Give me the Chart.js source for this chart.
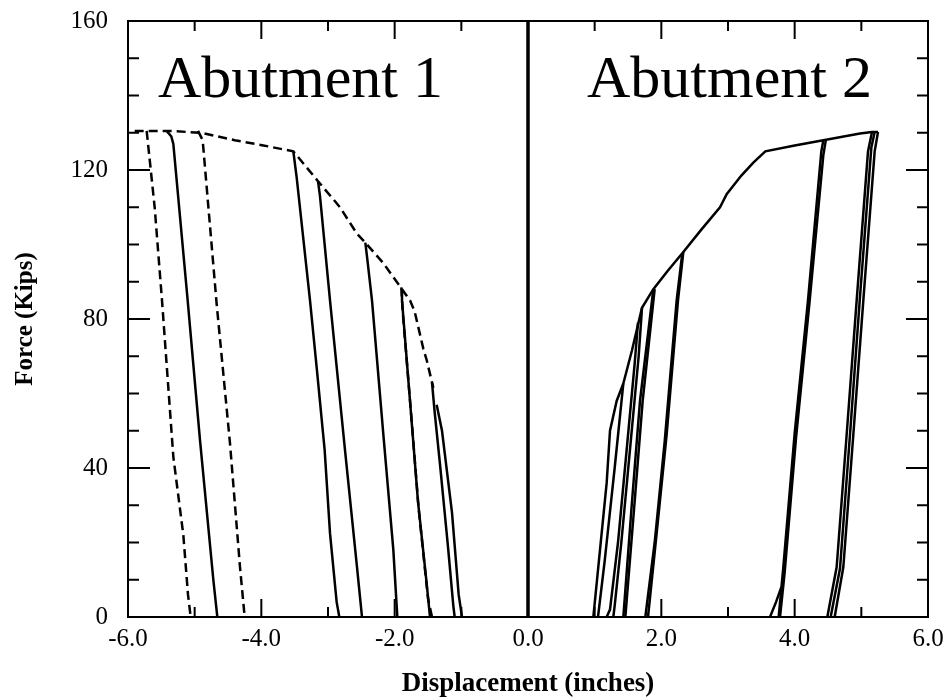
<!DOCTYPE html>
<html>
<head>
<meta charset="utf-8">
<script src="https://cdn.jsdelivr.net/npm/chart.js@4.4.0/dist/chart.umd.min.js"></script>
<style>
  body { margin: 0; background: #fff; }
  canvas { display: block; }
</style>
</head>
<body>
<canvas id="chart" width="947" height="698"></canvas>
<script>
// axis ticks
var xTicks = [-6, -5, -4, -3, -2, -1, 0, 1, 2, 3, 4, 5, 6];
var xLabelValues = [-6, -4, -2, 0, 2, 4, 6];
var yTicks = [0, 10, 20, 30, 40, 50, 60, 70, 80, 90, 100, 110, 120, 130, 140, 150, 160];
var yLabelValues = [0, 40, 80, 120, 160];
var panelNames = ['Abutment 1', 'Abutment 2'];

// Abutment 1 - [displacement (in), force (kips)]
var envelope1 = [[-5.9, 130.5], [-5.72, 130.5], [-5.4, 130.5], [-4.9, 130], [-4.4, 128], [-3.97, 126.6], [-3.52, 125],
  [-3.15, 117], [-2.82, 110], [-2.57, 103], [-2.44, 100.5], [-2.17, 95], [-1.89, 88], [-1.77, 85], [-1.7, 82],
  [-1.57, 72], [-1.52, 69], [-1.42, 61.5]];
var unload1a = [[-5.72, 130.5], [-5.6, 110], [-5.49, 85], [-5.32, 43], [-5.17, 22], [-5.1, 6], [-5.06, 0]];
var unload1b = [[-5.42, 130.5], [-5.35, 129], [-5.32, 127], [-5.11, 86], [-4.92, 47.5], [-4.72, 10], [-4.66, 0]];
var unload1c = [[-4.95, 130.5], [-4.88, 128], [-4.67, 84], [-4.47, 46.6], [-4.32, 13.4], [-4.25, 0]];
var unload1d = [[-3.52, 125], [-3.47, 118], [-3.27, 85], [-3.17, 67], [-3.05, 44.8], [-2.97, 22.5], [-2.87, 4], [-2.83, 0]];
var unload1e = [[-3.15, 117], [-3.12, 113], [-2.97, 85], [-2.745, 44.8], [-2.565, 13.4], [-2.49, 0]];
var unload1f = [[-2.44, 100.5], [-2.41, 96], [-2.34, 85], [-2.17, 49], [-2.02, 18], [-1.96, 0]];
var unload1g = [[-1.89, 88], [-1.89, 85], [-1.77, 58], [-1.65, 31], [-1.52, 9], [-1.47, 0]];
var unload1h = [[-1.9, 88.5], [-1.88, 82], [-1.76, 56], [-1.64, 29], [-1.5, 5], [-1.44, 0]];
var unload1i = [[-1.44, 63], [-1.4, 55], [-1.32, 41], [-1.2, 18.8], [-1.12, 3], [-1.1, 0]];
var unload1j = [[-1.37, 57], [-1.29, 50], [-1.14, 28], [-1.04, 6], [-0.99, 0]];

// Abutment 2
var envelope2 = [[0.98, 0], [1.08, 18], [1.18, 36], [1.23, 50], [1.33, 58], [1.43, 62.7], [1.56, 71.6], [1.71, 83],
  [1.88, 88], [2.1, 93], [2.33, 98], [2.6, 104], [2.88, 110], [2.98, 113.5], [3.2, 118.5], [3.38, 122], [3.56, 125],
  [4.0, 126.6], [4.43, 128], [4.98, 129.8], [5.16, 130.2], [5.25, 130.2]];
var unload2a = [[1.43, 62.7], [1.3, 40], [1.15, 15], [1.05, 0]];
var unload2b = [[1.65, 79], [1.6, 68], [1.47, 43], [1.35, 20], [1.23, 2], [1.18, 0]];
var unload2c = [[1.71, 83], [1.66, 70], [1.53, 45], [1.4, 20], [1.3, 3], [1.28, 0]];
var unload2d = [[1.88, 88], [1.86, 85], [1.68, 58], [1.56, 31], [1.43, 0]];
var unload2e = [[1.9, 88], [1.72, 58], [1.6, 31], [1.46, 0]];
var unload2f = [[2.33, 98], [2.25, 85], [2.08, 49], [1.93, 22.5], [1.8, 0]];
var unload2g = [[2.31, 97], [2.23, 85], [2.05, 47], [1.9, 20], [1.76, 0]];
var unload2h = [[4.43, 128], [4.4, 125], [4.2, 85], [4.0, 49.3], [3.83, 13.4], [3.76, 0]];
var unload2i = [[4.47, 128.3], [4.43, 124], [4.22, 84], [4.02, 48], [3.85, 12], [3.78, 0]];
var reload2a = [[3.63, 0], [3.72, 4], [3.8, 8]];
var unload2j = [[5.16, 130.2], [5.1, 125], [4.93, 85], [4.78, 49], [4.63, 13.4], [4.49, 0]];
var unload2k = [[5.2, 130.2], [5.15, 126], [4.98, 86], [4.83, 49], [4.68, 13], [4.54, 0]];
var unload2l = [[5.25, 130.2], [5.2, 125], [5.03, 85], [4.88, 49], [4.73, 13.4], [4.6, 0]];

// zero line
var zeroLine = [[0, 0], [0, 160]];

function pts(arr) {
  return arr.map(function (p) { return { x: p[0], y: p[1] }; });
}

function line(arr, dashed, width) {
  return {
    data: pts(arr),
    showLine: true,
    borderColor: '#000',
    backgroundColor: '#000',
    borderWidth: width || 2.5,
    borderDash: dashed ? [9, 5] : [],
    pointRadius: 0,
    tension: 0
  };
}

var datasets = [
  line(envelope1, true), line(unload1a, true), line(unload1b, false), line(unload1c, true),
  line(unload1d, false), line(unload1e, false), line(unload1f, false), line(unload1g, false),
  line(unload1h, true), line(unload1i, false), line(unload1j, false),
  line(envelope2, false), line(unload2a, false), line(unload2b, false), line(unload2c, false),
  line(unload2d, false), line(unload2e, false), line(unload2f, false), line(unload2g, false),
  line(unload2h, false), line(unload2i, false), line(reload2a, false), line(unload2j, false),
  line(unload2k, false), line(unload2l, false),
  line(zeroLine, false, 3.5)
];

var serif = '"Liberation Serif", "Times New Roman", serif';

// frame, inward ticks and the two panel names
var insideTicks = {
  id: 'insideTicks',
  afterDatasetsDraw: function (chart) {
    var ctx = chart.ctx, a = chart.chartArea;
    var xs = chart.scales.x, ys = chart.scales.y;
    ctx.save();
    ctx.strokeStyle = '#000';
    ctx.lineWidth = 2;
    ctx.strokeRect(a.left, a.top, a.right - a.left, a.bottom - a.top);
    ctx.beginPath();
    xTicks.forEach(function (v) {
      var px = xs.getPixelForValue(v);
      var len = v % 2 === 0 ? 18 : 10;
      ctx.moveTo(px, a.bottom); ctx.lineTo(px, a.bottom - len);
      ctx.moveTo(px, a.top); ctx.lineTo(px, a.top + len);
    });
    yTicks.forEach(function (v) {
      var py = ys.getPixelForValue(v);
      var len = v % 40 === 0 ? 22 : 11;
      ctx.moveTo(a.left, py); ctx.lineTo(a.left + len, py);
      ctx.moveTo(a.right, py); ctx.lineTo(a.right - len, py);
    });
    ctx.stroke();

    ctx.fillStyle = '#000';
    ctx.font = '60px ' + serif;
    ctx.textBaseline = 'alphabetic';
    ctx.textAlign = 'left';
    ctx.fillText(panelNames[0], xs.getPixelForValue(-5.55), ys.getPixelForValue(139.5));
    ctx.fillText(panelNames[1], xs.getPixelForValue(0.885), ys.getPixelForValue(139.5));
    ctx.restore();
  }
};

new Chart(document.getElementById('chart'), {
  type: 'scatter',
  data: { datasets: datasets },
  options: {
    responsive: false,
    animation: false,
    devicePixelRatio: 1,
    layout: { padding: { top: 21, right: 19, left: 0, bottom: 0 } },
    plugins: { legend: { display: false }, tooltip: { enabled: false } },
    scales: {
      x: {
        type: 'linear',
        min: -6, max: 6,
        afterBuildTicks: function (s) { s.ticks = xTicks.map(function (v) { return { value: v }; }); },
        afterFit: function (s) { s.height = 81; s.paddingLeft = 0; s.paddingRight = 0; },
        grid: { display: false, drawTicks: false },
        border: { display: false },
        ticks: {
          autoSkip: false, maxRotation: 0, padding: 7, color: '#000',
          font: { family: serif, size: 25 },
          callback: function (v) { return xLabelValues.indexOf(v) >= 0 ? v.toFixed(1) : ''; }
        },
        title: {
          display: true, text: 'Displacement (inches)', color: '#000',
          font: { family: serif, size: 27, weight: 'bold', lineHeight: 1.0 },
          padding: { top: 0, bottom: 0 }
        }
      },
      y: {
        type: 'linear',
        min: 0, max: 160,
        afterBuildTicks: function (s) { s.ticks = yTicks.map(function (v) { return { value: v }; }); },
        afterFit: function (s) { s.width = 128; s.paddingTop = 0; s.paddingBottom = 0; },
        grid: { display: false, drawTicks: false },
        border: { display: false },
        ticks: {
          autoSkip: false, padding: 20, color: '#000',
          font: { family: serif, size: 25 },
          callback: function (v) { return yLabelValues.indexOf(v) >= 0 ? String(v) : ''; }
        },
        title: {
          display: true, text: 'Force (Kips)', color: '#000',
          font: { family: serif, size: 25, weight: 'bold' },
          padding: { top: 11, bottom: 0 }
        }
      }
    }
  },
  plugins: [insideTicks]
});
</script>
</body>
</html>
